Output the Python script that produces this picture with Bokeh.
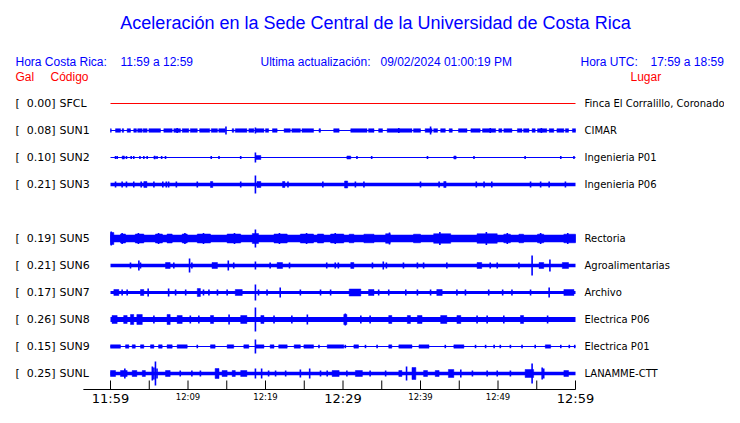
from bokeh.plotting import figure
from bokeh.models import Range1d, Label, ColumnDataSource
from bokeh.core.properties import value
from bokeh.embed import file_html
from bokeh.resources import INLINE

TITLE = "Aceleración en la Sede Central de la Universidad de Costa Rica"
HORA_CR = "11:59 a 12:59"
HORA_UTC = "17:59 a 18:59"
UPDATED = "09/02/2024 01:00:19 PM"

codes = ["SFCL", "SUN1", "SUN2", "SUN3", "SUN5", "SUN6", "SUN7", "SUN8", "SUN9", "SUNL"]
rows = [0, 1, 2, 3, 5, 6, 7, 8, 9, 10]
gal = [0.00, 0.08, 0.10, 0.21, 0.19, 0.21, 0.17, 0.26, 0.15, 0.25]
places = ["Finca El Corralillo, Coronado", "CIMAR", "Ingenieria P01", "Ingenieria P06",
          "Rectoria", "Agroalimentarias", "Archivo", "Electrica P06", "Electrica P01", "LANAMME-CTT"]
trace_colors = ["#ff0000"] + ["#0000ff"] * 9

# time axis (minutes after 11:59)
tick_minutes = [0, 5, 10, 15, 20, 25, 30, 35, 40, 45, 50, 55, 60]
label_minutes = [0, 10, 20, 30, 40, 50, 60]
tick_labels = ["11:59", "12:09", "12:19", "12:29", "12:39", "12:49", "12:59"]
label_major = [True, False, False, True, False, False, True]

# base trace half-thickness (display units)
base_amp = [0.5, 0.5, 0.5, 1.8, 3.8, 1.7, 1.5, 2.4, 0.6, 1.7]

# bursts: (start minute, end minute, half amplitude)
clusters = {
    "SFCL": [],
    "SUN1": [(0.0, 0.1, 1.8), (0.65, 1.29, 1.8), (1.5, 1.7, 1.8), (2.15, 2.58, 1.8), (3.0, 3.35, 1.8),
             (3.5, 4.09, 1.8), (4.21, 4.73, 1.8), (4.95, 6.45, 1.8), (6.88, 7.96, 1.8), (8.17, 9.03, 1.8),
             (9.25, 10.1, 1.8), (10.3, 11.2, 1.8), (11.5, 12.8, 1.8), (13.0, 13.8, 1.8), (13.97, 14.8, 1.8),
             (15.7, 15.9, 1.8), (16.1, 17.6, 1.8), (17.85, 18.5, 1.8), (18.7, 19.8, 1.8), (20.0, 20.4, 1.8),
             (20.9, 21.5, 1.8), (22.4, 23.2, 1.8), (23.4, 24.5, 1.8), (24.7, 26.2, 1.8), (26.9, 27.1, 1.8),
             (28.8, 29.5, 1.8), (31.0, 33.1, 1.8), (33.3, 34.0, 1.8), (34.6, 35.1, 1.8), (35.7, 38.9, 1.8),
             (39.1, 40.0, 1.8), (40.6, 41.5, 1.8), (41.7, 42.2, 1.8), (42.6, 43.2, 1.8), (43.7, 44.1, 1.8),
             (44.9, 46.0, 1.8), (46.5, 47.7, 1.8), (48.0, 49.7, 1.8), (50.1, 50.5, 1.8), (50.75, 51.8, 1.8),
             (52.5, 53.1, 1.8), (53.3, 54.0, 1.8), (54.4, 54.8, 1.8), (55.1, 56.3, 1.8), (56.6, 57.2, 1.8),
             (57.6, 58.5, 1.8), (58.7, 59.1, 1.8), (59.6, 60.0, 1.8)],
    "SUN2": [(1.5, 1.8, 1.5), (5.6, 5.8, 1.5), (18.7, 19.4, 2.0), (30.5, 31.0, 1.5), (44.3, 44.6, 1.5)],
    "SUN3": [(4.3, 4.7, 3), (12.9, 13.2, 3), (18.9, 19.4, 3), (22.2, 22.5, 3), (30.2, 30.6, 3.5), (43.0, 43.3, 3)],
    "SUN5": [(0.0, 0.43, 6.0), (1.29, 1.94, 4.5), (3.2, 4.3, 4.5), (5.8, 6.7, 4.5), (7.3, 7.96, 4.5),
             (9.25, 9.9, 4.5), (11.2, 12.9, 4.5), (15.05, 16.8, 4.5), (18.3, 19.1, 5.0), (21.1, 22.8, 4.5),
             (24.5, 26.2, 4.5), (26.7, 27.5, 4.5), (28.4, 30.1, 4.5), (30.8, 31.4, 4.3), (32.7, 34.0, 4.3),
             (35.5, 36.1, 4.8), (39.1, 40.0, 4.3), (41.7, 43.9, 4.8), (47.3, 49.9, 4.8), (50.75, 51.6, 4.3),
             (52.7, 53.3, 4.3), (55.1, 55.9, 4.3), (58.5, 60.0, 4.3)],
    "SUN6": [(7.1, 7.7, 3), (13.1, 13.8, 3), (21.5, 22.2, 3), (31.0, 31.4, 3), (47.3, 47.9, 3),
             (55.3, 55.9, 3), (58.3, 59.1, 3)],
    "SUN7": [(0.43, 1.08, 3), (3.87, 4.3, 3), (11.2, 11.6, 4), (16.1, 17.0, 3), (30.8, 32.3, 3.5),
             (33.3, 34.0, 3), (42.1, 42.8, 3), (58.5, 59.8, 3)],
    "SUN8": [(0.2, 0.86, 4), (1.7, 2.15, 4), (2.58, 3.0, 5), (3.4, 4.1, 5), (7.3, 7.7, 5), (8.6, 9.25, 4),
             (12.9, 13.3, 4), (16.8, 17.6, 4), (19.4, 19.8, 4), (30.1, 30.5, 5), (35.9, 36.3, 4),
             (38.3, 38.7, 4), (39.6, 40.2, 4), (42.6, 43.4, 4), (44.7, 45.2, 4), (52.9, 53.3, 4)],
    "SUN9": [(0.0, 1.29, 1.7), (1.94, 2.37, 1.7), (2.8, 3.2, 1.7), (3.87, 4.3, 1.7), (5.16, 5.6, 1.7),
             (6.2, 6.67, 1.7), (7.3, 7.96, 1.7), (8.6, 9.9, 1.7), (12.9, 13.5, 1.7), (15.05, 15.9, 1.7),
             (17.2, 17.85, 1.7), (18.7, 19.8, 1.7), (20.6, 21.1, 1.7), (21.7, 22.8, 1.7), (23.7, 24.5, 1.7),
             (24.95, 26.2, 1.7), (27.96, 30.1, 1.7), (31.4, 32.0, 1.7), (35.9, 36.3, 1.7), (37.2, 38.9, 1.7),
             (39.8, 41.1, 1.7), (44.3, 45.6, 1.7), (56.1, 56.8, 1.7)],
    "SUNL": [(0.0, 0.65, 3), (1.29, 2.15, 3), (2.8, 3.4, 3), (4.1, 4.5, 3), (7.1, 7.7, 3), (13.5, 14.0, 5),
             (14.4, 15.05, 3), (15.7, 16.1, 3), (16.8, 17.6, 3), (28.6, 29.5, 3), (31.6, 32.5, 3),
             (37.2, 37.6, 3), (38.9, 39.4, 6), (40.4, 40.9, 3), (41.9, 42.4, 3), (43.6, 44.3, 4),
             (53.5, 54.6, 4), (58.5, 59.1, 3)],
}

# single spikes: (minute, half amplitude)
spikes = {
    "SFCL": [],
    "SUN1": [(8.6, 2.5), (14.9, 4), (18.7, 3), (37.2, 2.5), (41.3, 4), (49.0, 2.5), (55.6, 2.5)],
    "SUN2": [(0.65, 1.5), (0.86, 1.5), (2.06, 1.5), (2.67, 1.5), (3.0, 1.5), (3.8, 1.5), (4.3, 1.5),
             (4.73, 1.5), (6.0, 1.5), (6.6, 1.5), (7.1, 1.5), (13.0, 1.5), (14.0, 1.5), (16.8, 1.5),
             (18.7, 5), (31.8, 1.5), (33.7, 1.5), (40.9, 1.5), (46.9, 1.5), (53.5, 1.5), (58.1, 1.5), (59.8, 1.5)],
    "SUN3": [(0.65, 3), (1.5, 3), (2.06, 3), (3.0, 3), (3.96, 3), (5.6, 3), (6.75, 3), (7.2, 3), (7.5, 3),
             (8.5, 3), (11.2, 3), (16.8, 3), (18.7, 9), (22.9, 3), (27.4, 3), (31.6, 3), (32.7, 3), (40.0, 3),
             (42.4, 3), (47.2, 3), (48.2, 3), (49.2, 3), (54.2, 3), (55.5, 3), (56.6, 3), (58.7, 3)],
    "SUN5": [(18.7, 9), (0.1, 7), (1.5, 5.5), (3.6, 5.5), (6.2, 5.5), (9.6, 5.5), (12.0, 5.5),
             (16.0, 5.5), (21.8, 5.5), (25.3, 5.5), (29.0, 5.5), (36.0, 6), (42.5, 6.5), (48.5, 6.5),
             (51.2, 5.5), (55.5, 5.5), (59.0, 5.5)],
    "SUN6": [(2.58, 3), (3.66, 5), (3.87, 3), (8.17, 3), (10.2, 7), (10.5, 3), (15.2, 5), (15.9, 3),
             (18.7, 4), (20.6, 3), (23.1, 3), (27.9, 3), (29.0, 3), (29.4, 3), (33.8, 3), (35.2, 4),
             (35.6, 3), (37.8, 3), (39.6, 3), (40.4, 3), (43.4, 3), (49.0, 3), (49.9, 3), (52.7, 3),
             (54.4, 10), (56.7, 6)],
    "SUN7": [(1.5, 3), (2.15, 3), (4.86, 4), (7.5, 4), (8.4, 3), (9.7, 3), (12.0, 3), (12.7, 3), (13.8, 3),
             (15.05, 3), (18.7, 8), (19.1, 3), (20.2, 3), (21.9, 5), (24.5, 3), (27.1, 3), (28.4, 3),
             (34.6, 3), (35.9, 3), (38.1, 3), (39.6, 3), (41.3, 3), (44.7, 3), (45.8, 3), (48.8, 3),
             (50.6, 3), (51.8, 3), (54.2, 3), (56.6, 5)],
    "SUN8": [(5.6, 4), (10.3, 4), (11.4, 4), (15.3, 5), (18.7, 12), (21.1, 4), (23.4, 4), (25.4, 5),
             (30.3, 6), (32.3, 4), (33.5, 4), (47.3, 4), (48.6, 4), (50.75, 4), (56.4, 4)],
    "SUN9": [(11.2, 1.7), (18.7, 7), (26.9, 1.7), (30.3, 1.7), (32.9, 1.7), (34.4, 1.7), (43.2, 1.7),
             (47.1, 1.7), (48.4, 1.7), (49.5, 1.7), (50.3, 1.7), (51.6, 1.7), (53.1, 1.7), (54.8, 1.7),
             (58.1, 1.7), (59.2, 1.7), (59.9, 1.7)],
    "SUNL": [(1.85, 5), (5.4, 7), (5.6, 6), (5.8, 12), (6.0, 5), (9.0, 3), (10.5, 3), (11.6, 3), (18.7, 5),
             (19.5, 5), (20.4, 3), (21.3, 3), (22.6, 3), (24.5, 4), (25.7, 5), (27.1, 3), (27.96, 3),
             (30.5, 3), (33.5, 3), (35.5, 3), (38.2, 7), (45.2, 4), (46.7, 3), (48.6, 3), (49.9, 3),
             (51.6, 3), (54.4, 10), (55.7, 6), (55.9, 5)],
}

# ---------------- layout ----------------
W, H = 724, 407
PX_PER_MIN = 7.75          # 60 minutes over 465 px
X0_PX = 110                # pixel of minute 0
ROW0_PX = 103              # pixel (from top) of first trace
ROW_PX = 27                # pixels between traces
K = 1.0 / ROW_PX           # display unit -> row unit

x_range = Range1d(-X0_PX / PX_PER_MIN, 60 + (W - X0_PX - 465) / PX_PER_MIN)
y_range = Range1d((H - ROW0_PX) / ROW_PX, -ROW0_PX / ROW_PX)   # flipped: rows go downward

p = figure(width=W, height=H, x_range=x_range, y_range=y_range, output_backend="svg",
           toolbar_location=None, min_border=0, outline_line_color=None)
p.axis.visible = False
p.grid.visible = False
p.background_fill_color = "white"
p.border_fill_color = "white"

# base lines
base_src = ColumnDataSource(dict(
    x0=[0] * len(codes), x1=[60] * len(codes), y=rows,
    lw=[max(1.0, 2 * a) for a in base_amp], color=trace_colors))
p.segment(x0="x0", y0="y", x1="x1", y1="y", line_width="lw", line_color="color", source=base_src)

# bursts
ql, qr, qt, qb, qc = [], [], [], [], []
for code, r, c in zip(codes, rows, trace_colors):
    for t0, t1, a in clusters[code]:
        ql.append(t0); qr.append(t1); qt.append(r - a * K); qb.append(r + a * K); qc.append(c)
p.quad(left=ql, right=qr, top=qt, bottom=qb, fill_color=qc, line_color=qc, line_width=0.5)

sx, sy0, sy1, sc = [], [], [], []
for code, r, c in zip(codes, rows, trace_colors):
    for t, a in spikes[code]:
        sx.append(t); sy0.append(r - a * K); sy1.append(r + a * K); sc.append(c)
p.segment(x0=sx, y0=sy0, x1=sx, y1=sy1, line_color=sc, line_width=1.6)

# station labels
lab_src = ColumnDataSource(dict(
    x=[0] * len(codes), xr=[60] * len(codes), y=rows,
    vals=["%.2f]" % g for g in gal], codes=codes, places=places, br=["["] * len(codes)))
common = dict(text_font=value("DejaVu Sans"), text_color="black",
              text_baseline="middle", source=lab_src)
p.text(x="x", y="y", text="br", x_offset=-95, text_align="left", text_font_size="11px", **common)
p.text(x="x", y="y", text="vals", x_offset=-55, text_align="right", text_font_size="11px", **common)
p.text(x="x", y="y", text="codes", x_offset=-51, text_align="left", text_font_size="11px", **common)
p.text(x="xr", y="y", text="places", x_offset=9, text_align="left", text_font_size="10px", **common)

# time axis
AXIS_Y = (389 - ROW0_PX) / ROW_PX
TICK_LEN = 9 * K
p.segment(x0=[-3.5], y0=[AXIS_Y], x1=[60], y1=[AXIS_Y], line_color="black", line_width=1)
p.segment(x0=tick_minutes, y0=[AXIS_Y - TICK_LEN] * len(tick_minutes),
          x1=tick_minutes, y1=[AXIS_Y] * len(tick_minutes), line_color="black", line_width=1)
big = [(m, t) for m, t, b in zip(label_minutes, tick_labels, label_major) if b]
small = [(m, t) for m, t, b in zip(label_minutes, tick_labels, label_major) if not b]
p.text(x=[m for m, _ in big], y=[AXIS_Y + 1 * K] * len(big), text=[t for _, t in big],
       text_font=value("DejaVu Sans"), text_font_size="13px", text_align="center",
       text_baseline="top", text_color="black")
p.text(x=[m for m, _ in small], y=[AXIS_Y + 2 * K] * len(small), text=[t for _, t in small],
       text_font=value("DejaVu Sans"), text_font_size="8.5px", text_align="center",
       text_baseline="top", text_color="black")

# header texts
def lab(x, y_top, text, size, color, align="left"):
    p.add_layout(Label(x=x, y=H - y_top, x_units="screen", y_units="screen", text=text,
                       text_font="Liberation Sans", text_font_size=size, text_color=color,
                       text_align=align, text_baseline="middle"))

lab(375, 22, TITLE, "18px", "#0000ff", "center")
lab(15, 61, "Hora Costa Rica:", "12px", "#0000ff")
lab(120, 61, HORA_CR, "12px", "#0000ff")
lab(260, 61, "Ultima actualización:", "12px", "#0000ff")
lab(380, 61, UPDATED, "12px", "#0000ff")
lab(580, 61, "Hora UTC:", "12px", "#0000ff")
lab(650, 61, HORA_UTC, "12px", "#0000ff")
lab(15, 76, "Gal", "12px", "#ff0000")
lab(50, 76, "Código", "12px", "#ff0000")
lab(630, 76, "Lugar", "12px", "#ff0000")

open("out.html", "w").write(file_html(p, INLINE))
